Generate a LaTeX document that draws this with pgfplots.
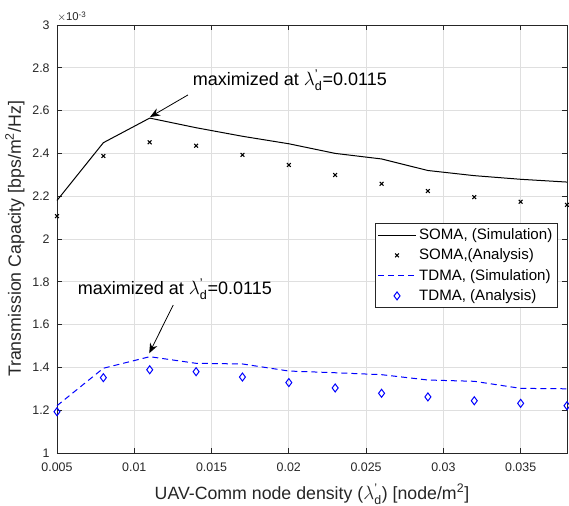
\documentclass[border=0pt]{standalone}
\usepackage{amsmath}
\usepackage{fontspec}
\setmainfont{Liberation Sans}
\usepackage{pgfplots}
\pgfplotsset{compat=1.18}
\usetikzlibrary{arrows.meta}
\definecolor{axgray}{RGB}{38,38,38}
\definecolor{gridgray}{RGB}{223,223,223}
\newcommand{\lam}{$\lambda^{\text{'}}_{\text{d}}$}
\pgfplotsset{
  lineleg/.style={legend image code/.code={\draw[##1] (0cm,0cm) -- (1.0cm,0cm);}},
  markleg/.style={legend image code/.code={\draw[##1] plot coordinates {(0.5cm,0cm)};}},
}
\begin{document}
\begin{tikzpicture}
\begin{axis}[
  at={(0,0)}, anchor=south west,
  scale only axis,
  width=382.5pt, height=321pt,
  xmin=0.005, xmax=0.038,
  ymin=1, ymax=3,
  scaled x ticks=false, scaled y ticks=false,
  xtick={0.005,0.01,0.015,0.02,0.025,0.03,0.035},
  xticklabels={0.005,0.01,0.015,0.02,0.025,0.03,0.035},
  ytick={1,1.2,1.4,1.6,1.8,2,2.2,2.4,2.6,2.8,3},
  yticklabels={1,1.2,1.4,1.6,1.8,2,2.2,2.4,2.6,2.8,3},
  tick align=inside,
  major tick length=4pt,
  grid=major,
  major grid style={gridgray, line width=0.5pt},
  axis line style={axgray, line width=0.6pt},
  tick style={axgray, line width=0.6pt},
  tick label style={font=\fontsize{9.3}{11}\selectfont, text=axgray},
  xticklabel style={yshift=-4pt},
  yticklabel style={xshift=-2pt},
  label style={font=\fontsize{13.3}{15}\selectfont, text=axgray},
  xlabel={UAV-Comm node density (\lam) [node/m$^{\text{2}}$]},
  ylabel={Transmission Capacity [bps/m$^{\text{2}}$/Hz]},
  xlabel style={yshift=-2pt},
  ylabel style={yshift=-1pt},
  legend style={at={(0.9824,0.5374)}, anchor=north east, draw=axgray, line width=0.6pt,
    font=\fontsize{11.3}{13}\selectfont, row sep=1.5pt, inner xsep=2pt, inner ysep=2pt},
  legend cell align=left,
  clip=false,
]
\addplot[black, line width=0.75pt, lineleg]
coordinates {
(0.005,2.180) (0.008,2.450) (0.011,2.565) (0.014,2.520) (0.017,2.480) (0.020,2.445)
(0.023,2.400) (0.026,2.374) (0.029,2.320) (0.032,2.296) (0.035,2.279) (0.038,2.266)
};
\addlegendentry{SOMA, (Simulation)}
\addplot[only marks, black, mark=x, mark size=2pt, line width=0.8pt, markleg]
coordinates {
(0.005,2.107) (0.008,2.388) (0.011,2.452) (0.014,2.436) (0.017,2.393) (0.020,2.346)
(0.023,2.299) (0.026,2.258) (0.029,2.224) (0.032,2.196) (0.035,2.174) (0.038,2.159)
};
\addlegendentry{SOMA,(Analysis)}
\addplot[blue, line width=0.75pt, dash pattern=on 4.5pt off 3pt, lineleg]
coordinates {
(0.005,1.221) (0.008,1.396) (0.011,1.450) (0.014,1.419) (0.017,1.416) (0.020,1.383)
(0.023,1.375) (0.026,1.366) (0.029,1.341) (0.032,1.335) (0.035,1.302) (0.038,1.300)
};
\addlegendentry{TDMA, (Simulation)}
\addplot[only marks, blue, mark=diamond, mark size=3pt, line width=0.75pt, markleg]
coordinates {
(0.005,1.193) (0.008,1.352) (0.011,1.389) (0.014,1.380) (0.017,1.355) (0.020,1.329)
(0.023,1.304) (0.026,1.279) (0.029,1.262) (0.032,1.244) (0.035,1.232) (0.038,1.221)
};
\addlegendentry{TDMA, (Analysis)}
\draw[-{Stealth[length=7.5pt,width=6pt,inset=2.5pt]}, line width=0.6pt] (axis cs:0.01347,2.673) -- (axis cs:0.01102,2.570);
\node[font=\fontsize{13.5}{15}\selectfont] at (axis cs:0.02007,2.743) {maximized at \lam=0.0115};
\draw[-{Stealth[length=7.5pt,width=6pt,inset=2.5pt]}, line width=0.6pt] (axis cs:0.01252,1.6916) -- (axis cs:0.01097,1.466);
\node[font=\fontsize{13.5}{15}\selectfont] at (axis cs:0.01263,1.766) {maximized at \lam=0.0115};
\node[anchor=south west, inner sep=0pt, font=\fontsize{8.5}{10}\selectfont, text=axgray] at (rel axis cs:0,1) [yshift=2pt] {$\times$10$^{\text{-3}}$};
\end{axis}
\pgfresetboundingbox
\path[use as bounding box] (-42.75pt,-39.75pt) rectangle (384pt,339.75pt);
\end{tikzpicture}
\end{document}
